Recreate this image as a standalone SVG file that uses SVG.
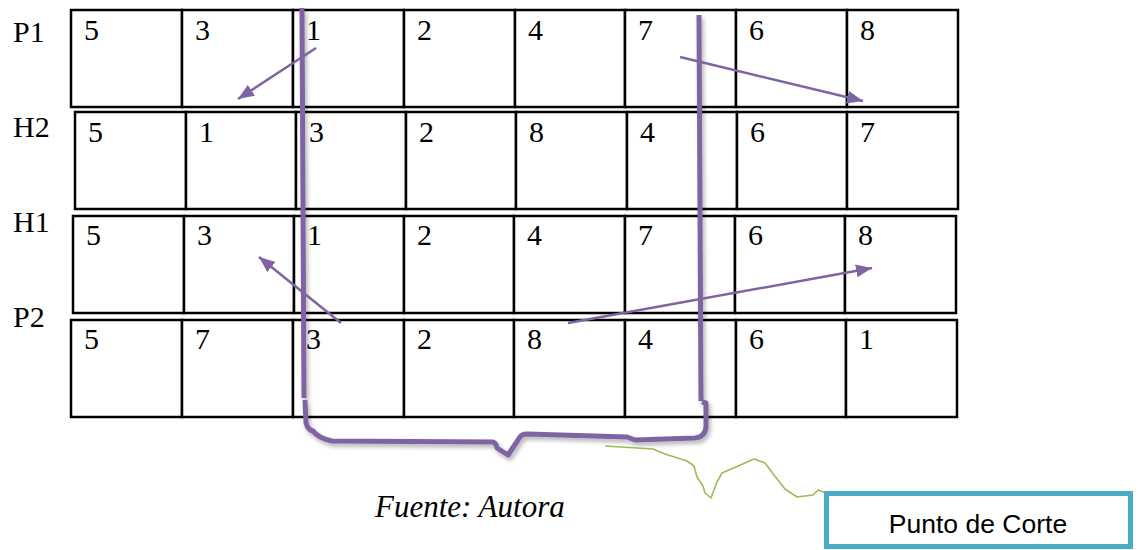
<svg xmlns="http://www.w3.org/2000/svg" width="1138" height="550" viewBox="0 0 1138 550">
  <style>
    .cell { fill: #ffffff; stroke: #000000; stroke-width: 2.5; }
    .num { font-family: "Liberation Serif", "Times New Roman", serif; font-size: 30px; fill: #000000; }
    .lbl { font-family: "Liberation Serif", "Times New Roman", serif; font-size: 30px; fill: #000000; }
    .cut { fill: none; stroke: #8064A2; stroke-width: 5; stroke-linejoin: round; }
    .arrow { fill: none; stroke: #8064A2; stroke-width: 2.5; marker-end: url(#ah); }
    .green { fill: none; stroke: #9BBB59; stroke-width: 1.6; stroke-linejoin: round; }
  </style>
  <defs>
    <marker id="ah" markerUnits="userSpaceOnUse" markerWidth="17" markerHeight="13" refX="16" refY="6.5" orient="auto">
      <path d="M0,0 L16,6.5 L0,13 z" fill="#8064A2"/>
    </marker>
    <filter id="sh" x="-10%" y="-10%" width="130%" height="130%">
      <feDropShadow dx="2" dy="3" stdDeviation="2" flood-color="#000000" flood-opacity="0.3"/>
    </filter>
  </defs>
  <rect width="1138" height="550" fill="#ffffff"/>

  <text class="lbl" x="13" y="42">P1</text>
  <text class="lbl" x="13" y="137">H2</text>
  <text class="lbl" x="13" y="232">H1</text>
  <text class="lbl" x="13" y="327">P2</text>

  <g id="row-P1">
    <rect class="cell" x="71" y="10" width="111" height="97"/><text class="num" x="84" y="40">5</text>
    <rect class="cell" x="182" y="10" width="111" height="97"/><text class="num" x="195" y="40">3</text>
    <rect class="cell" x="293" y="10" width="111" height="97"/><text class="num" x="306" y="40">1</text>
    <rect class="cell" x="404" y="10" width="111" height="97"/><text class="num" x="417" y="40">2</text>
    <rect class="cell" x="515" y="10" width="110" height="97"/><text class="num" x="528" y="40">4</text>
    <rect class="cell" x="625" y="10" width="111" height="97"/><text class="num" x="638" y="40">7</text>
    <rect class="cell" x="736" y="10" width="111" height="97"/><text class="num" x="749" y="40">6</text>
    <rect class="cell" x="847" y="10" width="111" height="97"/><text class="num" x="860" y="40">8</text>
  </g>
  <g id="row-H2">
    <rect class="cell" x="75" y="112" width="111" height="97"/><text class="num" x="88" y="142">5</text>
    <rect class="cell" x="186" y="112" width="110" height="97"/><text class="num" x="199" y="142">1</text>
    <rect class="cell" x="296" y="112" width="110" height="97"/><text class="num" x="309" y="142">3</text>
    <rect class="cell" x="406" y="112" width="110" height="97"/><text class="num" x="419" y="142">2</text>
    <rect class="cell" x="516" y="112" width="111" height="97"/><text class="num" x="529" y="142">8</text>
    <rect class="cell" x="627" y="112" width="110" height="97"/><text class="num" x="640" y="142">4</text>
    <rect class="cell" x="737" y="112" width="110" height="97"/><text class="num" x="750" y="142">6</text>
    <rect class="cell" x="847" y="112" width="111" height="97"/><text class="num" x="860" y="142">7</text>
  </g>
  <g id="row-H1">
    <rect class="cell" x="73" y="216" width="111" height="97"/><text class="num" x="86" y="245">5</text>
    <rect class="cell" x="184" y="216" width="110" height="97"/><text class="num" x="197" y="245">3</text>
    <rect class="cell" x="294" y="216" width="110" height="97"/><text class="num" x="307" y="245">1</text>
    <rect class="cell" x="404" y="216" width="110" height="97"/><text class="num" x="417" y="245">2</text>
    <rect class="cell" x="514" y="216" width="111" height="97"/><text class="num" x="527" y="245">4</text>
    <rect class="cell" x="625" y="216" width="110" height="97"/><text class="num" x="638" y="245">7</text>
    <rect class="cell" x="735" y="216" width="110" height="97"/><text class="num" x="748" y="245">6</text>
    <rect class="cell" x="845" y="216" width="111" height="97"/><text class="num" x="858" y="245">8</text>
  </g>
  <g id="row-P2">
    <rect class="cell" x="71" y="320" width="111" height="97"/><text class="num" x="84" y="349">5</text>
    <rect class="cell" x="182" y="320" width="111" height="97"/><text class="num" x="195" y="349">7</text>
    <rect class="cell" x="293" y="320" width="111" height="97"/><text class="num" x="306" y="349">3</text>
    <rect class="cell" x="404" y="320" width="110" height="97"/><text class="num" x="417" y="349">2</text>
    <rect class="cell" x="514" y="320" width="111" height="97"/><text class="num" x="527" y="349">8</text>
    <rect class="cell" x="625" y="320" width="111" height="97"/><text class="num" x="638" y="349">4</text>
    <rect class="cell" x="736" y="320" width="110" height="97"/><text class="num" x="749" y="349">6</text>
    <rect class="cell" x="846" y="320" width="111" height="97"/><text class="num" x="859" y="349">1</text>
  </g>

  <g id="connectors">
    <g filter="url(#sh)">
      <path class="cut" d="M302,8 L304,398"/>
      <path class="cut" d="M699,15 L701,401"/>
      <path class="cut" d="M305,400 L306,423 Q308,430 313,431 Q318,438 332,441 L493,442 Q497,444 497,448 L508,455 L520,437 Q522,434 527,434 L627,437 L635,440 L695,438 Q705,437 706,427 L706,403 L702,402"/>
    </g>
    <line class="arrow" x1="316" y1="48" x2="238" y2="99"/>
    <line class="arrow" x1="680" y1="57" x2="863" y2="101"/>
    <line class="arrow" x1="341" y1="323" x2="259" y2="257"/>
    <line class="arrow" x1="568" y1="323" x2="872" y2="268"/>
    <path class="green" d="M605,446 L653,449 L665,454 L687,461 L694,466 L697,477 L703,486 L705,493 L711,498 L717,482 L722,473 L754,459 L765,463 L774,475 L785,489 L797,497 L813,495 L818,490 L826,493"/>
  </g>

  <text x="375" y="517" font-family="Liberation Serif, Times New Roman, serif" font-style="italic" font-size="31" fill="#000000">Fuente: Autora</text>

  <g id="punto-de-corte">
    <rect x="826.5" y="493.5" width="304" height="53" fill="#ffffff" stroke="#4BACC6" stroke-width="5"/>
    <text x="978" y="533" text-anchor="middle" font-family="Liberation Sans, Arial, sans-serif" font-size="26.5" fill="#000000">Punto de Corte</text>
  </g>
</svg>
